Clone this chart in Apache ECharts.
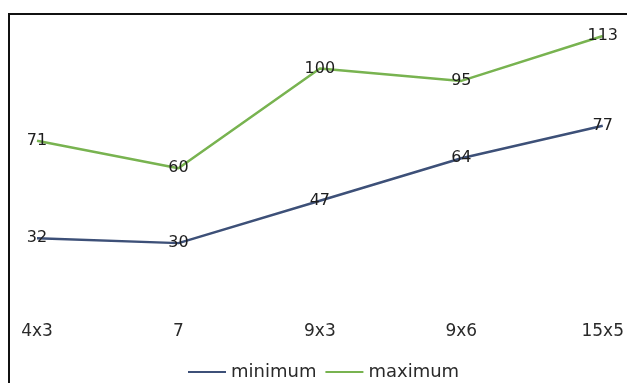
<!DOCTYPE html>
<html>
<head>
<meta charset="utf-8">
<script src="https://cdn.jsdelivr.net/npm/echarts@6/dist/echarts.min.js"></script>
<style>
  html, body { margin: 0; padding: 0; background: #fff; }
  #chart { width: 627px; height: 383px; }
</style>
</head>
<body>
<div id="chart"></div>
<script>
// Board sizes and the min / max values for each
const categories = ['4x3', '7', '9x3', '9x6', '15x5'];
const minimumValues = [32, 30, 47, 64, 77];
const maximumValues = [71, 60, 100, 95, 113];

const chart = echarts.init(document.getElementById('chart'));
const font = 'DejaVu Sans';

const valueLabel = {
  show: true,
  position: 'inside',
  color: '#1e1e1e',
  fontFamily: font,
  fontSize: 16
};

chart.setOption({
  animation: false,
  backgroundColor: '#fff',
  graphic: [{
    type: 'rect',
    shape: { x: 9, y: 14, width: 700, height: 500 },
    style: { fill: 'none', stroke: '#111', lineWidth: 2 },
    silent: true
  }],
  grid: { left: 37, right: 24, top: 18.5, bottom: 65, containLabel: false },
  legend: {
    top: 358,
    left: 183,
    icon: 'rect',
    itemWidth: 38,
    itemHeight: 2,
    itemGap: 9,
    textStyle: { fontFamily: font, fontSize: 18, color: '#2a2a2a' },
    data: ['minimum', 'maximum']
  },
  xAxis: {
    type: 'category',
    data: categories,
    boundaryGap: false,
    axisLine: { show: false },
    axisTick: { show: false },
    axisLabel: { fontFamily: font, fontSize: 17, color: '#2a2a2a', margin: 5 }
  },
  yAxis: {
    type: 'value',
    min: 0,
    max: 120,
    show: false,
    splitLine: { show: false }
  },
  series: [
    {
      name: 'minimum',
      type: 'line',
      data: minimumValues,
      symbol: 'circle',
      symbolSize: 0,
      lineStyle: { color: '#3d5078', width: 2.5 },
      itemStyle: { color: '#3d5078' },
      label: valueLabel
    },
    {
      name: 'maximum',
      type: 'line',
      data: maximumValues,
      symbol: 'circle',
      symbolSize: 0,
      lineStyle: { color: '#78b350', width: 2.5 },
      itemStyle: { color: '#78b350' },
      label: valueLabel
    }
  ]
});
</script>
</body>
</html>
